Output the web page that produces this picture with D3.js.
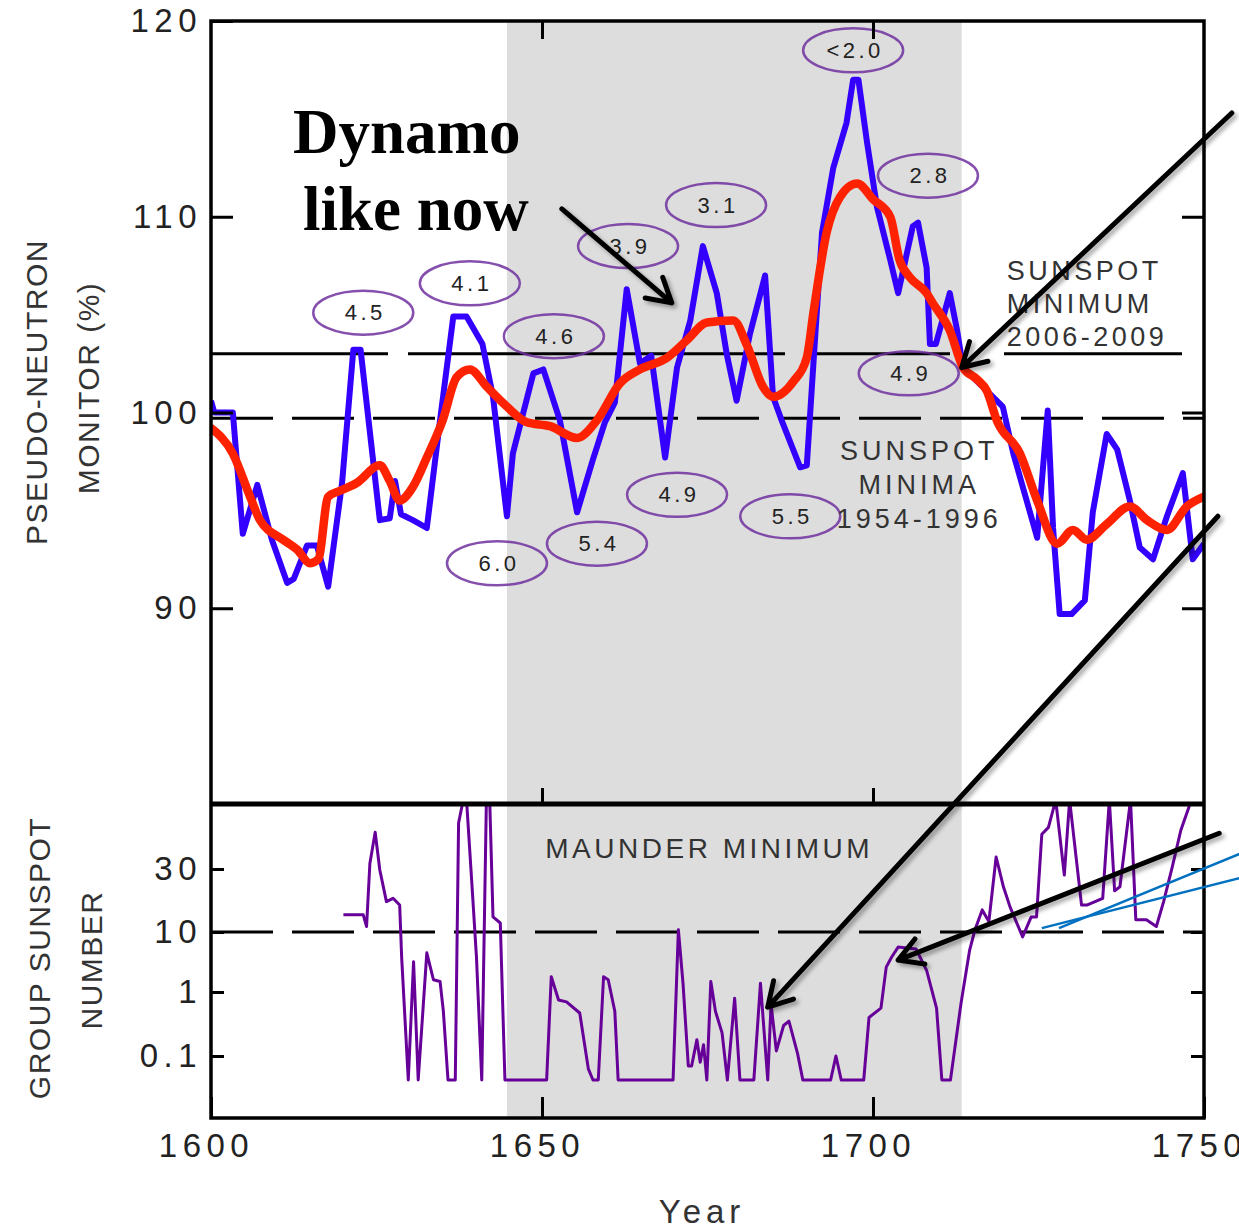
<!DOCTYPE html>
<html>
<head>
<meta charset="utf-8">
<script src="https://cdnjs.cloudflare.com/ajax/libs/d3/7.8.5/d3.min.js"></script>
<style>
html, body { margin: 0; padding: 0; background: #fff; }
svg { display: block; }
text { font-family: 'Liberation Sans', Arial, Helvetica, sans-serif; fill: #222; }
</style>
</head>
<body>
<svg></svg>
<script>
'use strict';

// pseudo-neutron monitor (%), thin blue curve
var blueYears = [1600, 1600.5, 1603.3, 1604.8, 1607, 1609.2, 1611.5, 1612.5, 1614.5, 1616,
    1617.7, 1619.8, 1621.5, 1622.6, 1624.5, 1625.5, 1627, 1627.8, 1628.7, 1630.5,
    1632.6, 1634.6, 1636.6, 1638.6, 1641, 1642.6, 1644.7, 1645.6, 1648.7, 1650.2,
    1652.7, 1655.3, 1657.7, 1659.5, 1661, 1662.8, 1664.8, 1666.5, 1668.6, 1670.4,
    1672.4, 1674.3, 1676.4, 1677.9, 1679.4, 1681.4, 1683.7, 1684.9, 1686.2, 1689,
    1690, 1691, 1692.3, 1694, 1696, 1697, 1697.8, 1699.1, 1700.6, 1702.6,
    1703.8, 1706, 1706.8, 1708.1, 1708.6, 1709.5, 1711.6, 1712.7, 1713.6, 1716,
    1719.6, 1721.2, 1724.8, 1726.4, 1727.2, 1728.2, 1730, 1732, 1733.2, 1735.3,
    1736.9, 1738.8, 1740.3, 1742.3, 1744.4, 1746.8, 1748.3, 1750];
var blueVals = [100.6, 100.0, 100.0, 93.8, 96.3, 93.5, 91.3, 91.5, 93.2, 93.2,
    91.1, 96.4, 103.2, 103.2, 97.5, 94.5, 94.6, 96.5, 94.8, 94.5,
    94.1, 99.6, 104.9, 104.9, 103.5, 100.8, 94.7, 97.9, 102.0, 102.2,
    99.6, 94.9, 97.6, 99.5, 100.5, 106.3, 102.5, 102.9, 97.7, 102.3,
    104.7, 108.5, 106.1, 103.0, 100.6, 104.0, 107.0, 100.8, 99.6, 97.2,
    97.3, 102.5, 109.2, 112.5, 114.8, 117.0, 117.0, 113.8, 110.5, 107.8,
    106.1, 109.5, 109.7, 107.4, 103.5, 103.5, 106.1, 104.2, 102.3, 101.5,
    100.3, 97.9, 93.6, 100.1, 94.1, 89.7, 89.7, 90.4, 94.9, 98.9,
    98.1, 95.5, 93.1, 92.5, 94.7, 96.9, 92.5, 93.3];

// smoothed curve, thick red
var redYears = [1600, 1603.3, 1605.9, 1607.4, 1610.9, 1613, 1615, 1616.2, 1617.7, 1619.5,
    1622, 1625.5, 1627, 1628.5, 1630.5, 1632.6, 1635, 1637.1, 1639.1, 1641.7,
    1644.7, 1647.7, 1651.2, 1655.3, 1658.3, 1661.8, 1664.8, 1668.9, 1671.9, 1674.9,
    1678.9, 1681, 1683.4, 1684.9, 1688, 1690, 1691, 1693, 1695, 1697.6,
    1700, 1702.6, 1704, 1705.6, 1708.1, 1709, 1711.6, 1713.6, 1715.7, 1717.2,
    1718.7, 1722.2, 1724.8, 1727.8, 1730.2, 1732.3, 1735.3, 1738.8, 1741.4, 1744.4,
    1747.4, 1750];
var redVals = [99.2, 97.9, 95.7, 94.5, 93.5, 93.0, 92.3, 92.5, 95.7, 96.0,
    96.4, 97.3, 96.5, 95.5, 96.2, 97.7, 99.6, 101.8, 102.2, 101.3,
    100.3, 99.5, 99.3, 98.7, 99.6, 101.5, 102.2, 102.8, 103.7, 104.6,
    104.7, 103.4, 101.3, 100.8, 101.6, 102.8, 105.1, 109.2, 111.0, 111.7,
    110.9, 110.0, 107.8, 106.9, 106.1, 105.6, 104.2, 102.3, 101.7, 101.1,
    99.6, 97.9, 95.5, 93.3, 94.0, 93.5, 94.3, 95.2, 94.5, 94.0,
    95.2, 95.7];

// group sunspot number (0 = no spots, drawn on the floor)
var gsnYears = [1620, 1623, 1623.5, 1624, 1624.8, 1625.5, 1626.5, 1627.5, 1628.5, 1628.8,
    1629.8, 1630.6, 1631.3, 1632.6, 1633.6, 1634.6, 1635.1, 1635.8, 1636.9, 1637.4,
    1638.1, 1638.6, 1639.4, 1640.1, 1640.9, 1641.6, 1642.1, 1642.6, 1643.7, 1644.4,
    1650.7, 1651.4, 1652.5, 1653.7, 1655.7, 1657, 1657.7, 1658.5, 1659.3, 1660,
    1661, 1661.5, 1669.8, 1670.6, 1671.3, 1672.1, 1672.6, 1673.4, 1673.9, 1674.4,
    1674.9, 1675.5, 1676.2, 1677.2, 1678, 1679.1, 1679.9, 1682, 1683, 1684.1,
    1684.6, 1685.4, 1686.5, 1687.3, 1688.6, 1689.4, 1693.6, 1694.4, 1695.2, 1698.6,
    1699.4, 1701.2, 1702, 1702.8, 1703.8, 1706.5, 1708.1, 1709.6, 1710.4, 1711.7,
    1713.3, 1714.6, 1715.4, 1716.5, 1717.5, 1718.6, 1719.7, 1720.7, 1722.6, 1723.9,
    1724.7, 1725.5, 1726.5, 1727.6, 1728.9, 1729.7, 1731.5, 1732.3, 1734.7, 1735.7,
    1736.5, 1737.3, 1738.9, 1739.7, 1741.3, 1742.8, 1743.9, 1745.2, 1746.5, 1748.1,
    1750];
var gsnVals = [13.5, 13.5, 11, 33, 57, 29.5, 17, 18, 16, 3.8,
    0, 3.2, 0, 4.5, 1.6, 1.5, 0.5, 0, 0, 67,
    100, 100, 23.5, 3.8, 0, 100, 100, 13, 11.7, 0,
    0, 1.8, 0.75, 0.7, 0.47, 0.063, 0, 0, 1.8, 1.6,
    0.5, 0, 0, 10.4, 1.4, 0.07, 0.07, 0.18, 0.08, 0.15,
    0, 1.5, 0.5, 0.23, 0, 0.8, 0, 0, 1.4, 0,
    0.65, 0.12, 0.3, 0.35, 0.11, 0, 0, 0.1, 0, 0,
    0.4, 0.56, 2.6, 3.8, 5.6, 5.2, 2.3, 0.56, 0, 0,
    0.67, 5, 10.4, 14.7, 12, 37, 22, 15.5, 8.3, 13,
    13, 55, 62, 100, 27, 100, 16, 16, 18, 100,
    20.5, 22, 100, 12.4, 12.4, 11, 17, 31, 59, 100,
    100];

// tick values and labels
var yearTicks = [1600, 1650, 1700, 1750];
var topTicks = [90, 100, 110, 120];
var gsnTicks = [0.1, 1, 10, 30];
var gsnTickLabels = ['0.1', '1', '10', '30'];

// Maunder minimum span, reference levels
var maunder = [1644.7, 1713.4];
var minima19541996 = 99.7;
var minimum20062009 = 103.0;
var gsnLevel = 10;

// cycle-length labels (years) and where they sit
var cycleLabels = ['4.5', '4.1', '4.6', '3.9', '3.1', '<2.0', '2.8', '4.9', '6.0', '5.4', '4.9', '5.5'];
var cycleYears = [1623.0, 1639.1, 1651.8, 1663.0, 1676.3, 1697.0, 1708.3, 1705.4, 1643.2, 1658.3, 1670.4, 1687.5];
var cycleVals = [105.1, 106.6, 103.9, 108.5, 110.6, 118.5, 112.1, 102.0, 92.3, 93.3, 95.8, 94.7];

function render() {

    var w = 1239;
    var h = 1229;
    var left = 211, right = 1204, top = 21, mid = 804, bottom = 1118;

    var svg = d3.select('svg').attr('width', w).attr('height', h);

    var x = d3.scaleLinear().domain([1600, 1750]).range([left, right]);
    var yTop = d3.scaleLinear().domain([80, 120]).range([mid, top]);
    // the sunspot axis is not a clean log: spacing
    var yLog = d3.scaleLinear()
        .domain([-1.375, -1, 0, 1, Math.log10(30), 2])
        .range([1080, 1056, 992, 932, 869, 800]);
    function ySun(v) {
        return yLog(v > 0 ? Math.log10(v) : -1.375);
    }

    var defs = svg.append('defs');
    defs.append('clipPath').attr('id', 'clipTop').append('rect')
        .attr('x', left).attr('y', top).attr('width', right - left).attr('height', mid - top);
    defs.append('clipPath').attr('id', 'clipBot').append('rect')
        .attr('x', left).attr('y', mid).attr('width', right - left).attr('height', bottom - mid);
    defs.append('filter').attr('id', 'shadow')
        .attr('x', '-20%').attr('y', '-20%').attr('width', '140%').attr('height', '140%')
        .append('feDropShadow').attr('dx', 3).attr('dy', 3).attr('stdDeviation', 2)
        .attr('flood-color', '#000').attr('flood-opacity', 0.35);

    // grey band
    svg.append('rect')
        .attr('x', x(maunder[0])).attr('y', top)
        .attr('width', x(maunder[1]) - x(maunder[0])).attr('height', bottom - top)
        .attr('fill', '#dddddd');

    // reference levels
    svg.append('line')
        .attr('x1', left).attr('x2', right)
        .attr('y1', yTop(minima19541996)).attr('y2', yTop(minima19541996))
        .attr('stroke', '#000').attr('stroke-width', 3).attr('stroke-dasharray', '62 19');
    svg.append('line')
        .attr('x1', left).attr('x2', x(1746.8))
        .attr('y1', yTop(minimum20062009)).attr('y2', yTop(minimum20062009))
        .attr('stroke', '#000').attr('stroke-width', 3).attr('stroke-dasharray', '177 20 377 28 137 54 178');
    svg.append('line')
        .attr('x1', left).attr('x2', right)
        .attr('y1', ySun(gsnLevel)).attr('y2', ySun(gsnLevel))
        .attr('stroke', '#000').attr('stroke-width', 3).attr('stroke-dasharray', '62 19');

    // curves
    var blueLine = d3.line().x(function (d, i) { return x(blueYears[i]); })
        .y(function (d) { return yTop(d); });
    var redLine = d3.line().curve(d3.curveMonotoneX)
        .x(function (d, i) { return x(redYears[i]); })
        .y(function (d) { return yTop(d); });
    var gsnLine = d3.line().x(function (d, i) { return x(gsnYears[i]); })
        .y(function (d) { return ySun(d); });

    svg.append('path').datum(blueVals).attr('clip-path', 'url(#clipTop)')
        .attr('d', blueLine).attr('fill', 'none')
        .attr('stroke', '#3300ff').attr('stroke-width', 6).attr('stroke-linejoin', 'round');
    svg.append('path').datum(redVals).attr('clip-path', 'url(#clipTop)')
        .attr('d', redLine).attr('fill', 'none')
        .attr('stroke', '#ff2200').attr('stroke-width', 8.5).attr('stroke-linejoin', 'round')
        .attr('stroke-linecap', 'round');
    svg.append('path').datum(gsnVals).attr('clip-path', 'url(#clipBot)')
        .attr('d', gsnLine).attr('fill', 'none')
        .attr('stroke', '#660099').attr('stroke-width', 3).attr('stroke-linejoin', 'round');

    // cycle length ellipses
    var cyc = svg.selectAll('.cycle').data(cycleLabels).enter().append('g')
        .attr('class', 'cycle')
        .attr('transform', function (d, i) {
            return 'translate(' + x(cycleYears[i]) + ',' + yTop(cycleVals[i]) + ')';
        });
    cyc.append('ellipse').attr('rx', 50).attr('ry', 22)
        .attr('fill', 'none').attr('stroke', '#7030a0').attr('stroke-width', 2.5)
        .attr('stroke-opacity', 0.85);
    cyc.append('text').attr('text-anchor', 'middle').attr('dy', '0.35em')
        .attr('dx', 2).attr('font-size', 22).attr('letter-spacing', 3.5)
        .text(function (d) { return d; });

    // annotation texts
    svg.append('text').attr('x', x(1612.4)).attr('y', yTop(113.25))
        .style('font-family', "'Liberation Serif', 'Times New Roman', serif")
        .attr('font-weight', 'bold').attr('font-size', 63).style('fill', '#000').text('Dynamo');
    svg.append('text').attr('x', x(1613.9)).attr('y', yTop(109.3))
        .style('font-family', "'Liberation Serif', 'Times New Roman', serif")
        .attr('font-weight', 'bold').attr('font-size', 63).style('fill', '#000').text('like now');

    var minNow = ['SUNSPOT', 'MINIMUM', '2006-2009'];
    var minNowVals = [106.75, 105.1, 103.4];
    minNow.forEach(function (t, i) {
        svg.append('text').attr('x', x(1720.2)).attr('y', yTop(minNowVals[i]))
            .attr('font-size', 27).attr('letter-spacing', 3.5).style('fill', '#333').text(t);
    });
    var minOld = ['SUNSPOT', 'MINIMA', '1954-1996'];
    var minOldVals = [97.55, 95.85, 94.1];
    minOld.forEach(function (t, i) {
        svg.append('text').attr('x', x(1707.0)).attr('y', yTop(minOldVals[i]))
            .attr('text-anchor', 'middle')
            .attr('font-size', 27).attr('letter-spacing', 4).style('fill', '#333').text(t);
    });
    svg.append('text').attr('x', x(1650.5)).attr('y', ySun(36.6))
        .attr('font-size', 28).attr('letter-spacing', 3.5).style('fill', '#333').text('MAUNDER MINIMUM');

    // frames
    svg.append('rect').attr('x', left).attr('y', top).attr('width', right - left).attr('height', bottom - top)
        .attr('fill', 'none').attr('stroke', '#000').attr('stroke-width', 3.5);
    svg.append('line').attr('x1', left).attr('x2', right).attr('y1', mid).attr('y2', mid)
        .attr('stroke', '#000').attr('stroke-width', 5);

    function styleAxis(g, size) {
        g.select('.domain').remove();
        g.selectAll('.tick line').attr('stroke', '#000').attr('stroke-width', 3);
        g.selectAll('.tick text').attr('font-size', size).attr('fill', null)
            .attr('letter-spacing', 5.5).style('fill', '#222');
        g.attr('font-family', null);
    }

    // top panel axes
    svg.append('g').attr('transform', 'translate(' + left + ',0)')
        .call(d3.axisLeft(yTop).tickValues(topTicks).tickSizeInner(-22).tickSizeOuter(0).tickPadding(9))
        .call(styleAxis, 33);
    svg.append('g').attr('transform', 'translate(' + right + ',0)')
        .call(d3.axisRight(yTop).tickValues([90, 100, 110]).tickSizeInner(-22).tickSizeOuter(0).tickFormat(''))
        .call(styleAxis, 33);
    svg.append('g').attr('transform', 'translate(0,' + top + ')')
        .call(d3.axisTop(x).tickValues([1650, 1700]).tickSizeInner(-18).tickSizeOuter(0).tickFormat(''))
        .call(styleAxis, 33);
    svg.append('g').attr('transform', 'translate(0,' + mid + ')')
        .call(d3.axisBottom(x).tickValues([1650, 1700]).tickSizeInner(-16).tickSizeOuter(0).tickFormat(''))
        .call(styleAxis, 33);

    // bottom panel axes
    var gsnLogTicks = gsnTicks.map(function (v) { return Math.log10(v); });
    svg.append('g').attr('transform', 'translate(' + left + ',0)')
        .call(d3.axisLeft(yLog).tickValues(gsnLogTicks).tickSizeInner(-13).tickSizeOuter(0).tickPadding(9)
            .tickFormat(function (d, i) { return gsnTickLabels[i]; }))
        .call(styleAxis, 33);
    svg.append('g').attr('transform', 'translate(' + right + ',0)')
        .call(d3.axisRight(yLog).tickValues(gsnLogTicks).tickSizeInner(-13).tickSizeOuter(0).tickFormat(''))
        .call(styleAxis, 33);
    var xAxis = svg.append('g').attr('transform', 'translate(0,' + bottom + ')')
        .call(d3.axisBottom(x).tickValues(yearTicks).tickSizeInner(-21).tickSizeOuter(0).tickPadding(16)
            .tickFormat(d3.format('d')))
        .call(styleAxis, 33);
    xAxis.selectAll('.tick text').attr('dx', -5);

    // axis titles
    function vTitle(t, cx, cy) {
        svg.append('text').attr('transform', 'translate(' + cx + ',' + cy + ') rotate(-90)')
            .attr('text-anchor', 'middle').attr('font-size', 30).attr('letter-spacing', 1.5)
            .style('fill', '#333').text(t);
    }
    vTitle('PSEUDO-NEUTRON', 47, 392);
    vTitle('MONITOR (%)', 99, 388);
    vTitle('GROUP SUNSPOT', 50, 958);
    vTitle('NUMBER', 102, 960);

    svg.append('text').attr('x', 702).attr('y', 1223).attr('text-anchor', 'middle')
        .attr('font-size', 33).attr('letter-spacing', 5).style('fill', '#333').text('Year');

    // arrows
    function arrow(x1, y1, x2, y2) {
        var ang = Math.atan2(y2 - y1, x2 - x1);
        var len = 27, spread = Math.PI / 6;
        var a1 = [x2 - len * Math.cos(ang - spread), y2 - len * Math.sin(ang - spread)];
        var a2 = [x2 - len * Math.cos(ang + spread), y2 - len * Math.sin(ang + spread)];
        svg.append('path')
            .attr('d', 'M' + x1 + ',' + y1 + 'L' + x2 + ',' + y2 +
                'M' + a1[0] + ',' + a1[1] + 'L' + x2 + ',' + y2 + 'L' + a2[0] + ',' + a2[1])
            .attr('fill', 'none').attr('stroke', '#000').attr('stroke-width', 5)
            .attr('stroke-linecap', 'round').attr('stroke-linejoin', 'round')
            .attr('filter', 'url(#shadow)');
    }
    arrow(x(1653.0), yTop(110.4), x(1669.6), yTop(105.6));
    arrow(x(1754.2), yTop(115.3), x(1713.4), yTop(102.3));
    arrow(x(1752.1), yTop(94.7), x(1684.1), ySun(0.58));
    arrow(x(1752.3), ySun(56), x(1703.8), ySun(3.4));

    // two thin blue strokes at lower right
    svg.append('line').attr('x1', x(1725.5)).attr('y1', ySun(10.7)).attr('x2', x(1755.9)).attr('y2', ySun(26))
        .attr('stroke', '#0070c0').attr('stroke-width', 2.5);
    svg.append('line').attr('x1', x(1728.1)).attr('y1', ySun(10.7)).attr('x2', x(1755.9)).attr('y2', ySun(40))
        .attr('stroke', '#0070c0').attr('stroke-width', 2.5);
}

render();
</script>
</body>
</html>
